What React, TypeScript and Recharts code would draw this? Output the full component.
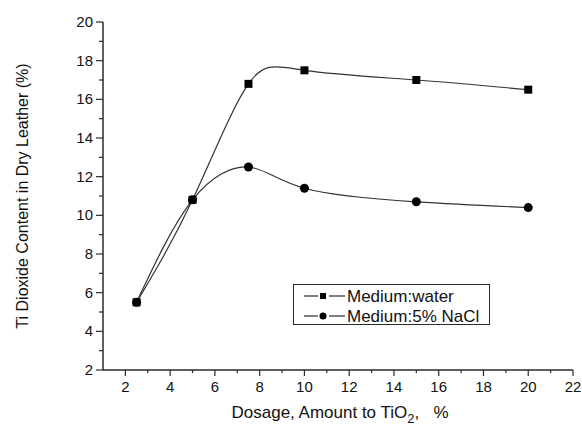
import { LineChart, Line, XAxis, YAxis } from 'recharts';

const dosage = [2.5, 5, 7.5, 10, 15, 20];
const waterContent = [5.5, 10.8, 16.8, 17.5, 17.0, 16.5];
const naclContent = [5.5, 10.8, 12.5, 11.4, 10.7, 10.4];

const xTicks = [2, 3, 4, 5, 6, 7, 8, 9, 10, 11, 12, 13, 14, 15, 16, 17, 18, 19, 20, 21, 22];
const yTicks = [2, 3, 4, 5, 6, 7, 8, 9, 10, 11, 12, 13, 14, 15, 16, 17, 18, 19, 20];

const seriesNames = ['Medium:water', 'Medium:5% NaCl'];

const FONT = '"Liberation Sans", Arial, sans-serif';
const INK = '#2a2a2a';

const chartData = dosage.map((d, i) => ({
  dosage: d,
  water: waterContent[i],
  nacl: naclContent[i],
}));

const XTick = (props: any) => {
  const { x, y, payload } = props;
  const major = payload.value % 2 === 0;
  return (
    <g>
      <line x1={x} x2={x} y1={y} y2={y + (major ? 6 : 3)} stroke={INK} strokeWidth={1.2} />
      {major && (
        <text x={x} y={y + 22} textAnchor="middle" fontSize={15} fontFamily={FONT} fill="#111">
          {payload.value}
        </text>
      )}
    </g>
  );
};

const YTick = (props: any) => {
  const { x, y, payload } = props;
  const major = payload.value % 2 === 0;
  return (
    <g>
      <line x1={x} x2={x - (major ? 7 : 4)} y1={y} y2={y} stroke={INK} strokeWidth={1.2} />
      {major && (
        <text x={x - 10} y={y + 5} textAnchor="end" fontSize={15} fontFamily={FONT} fill="#111">
          {payload.value}
        </text>
      )}
    </g>
  );
};

const SquareDot = (props: any) => {
  const { cx, cy } = props;
  return <rect x={cx - 4} y={cy - 4} width={8} height={8} fill="#000" />;
};

const CircleDot = (props: any) => {
  const { cx, cy } = props;
  return <circle cx={cx} cy={cy} r={4.5} fill="#000" />;
};

const LegendBox = () => (
  <svg width={198} height={42} style={{ display: 'block' }}>
    <rect x={0.5} y={0.5} width={196} height={40} fill="#fff" stroke={INK} strokeWidth={1} />
    {seriesNames.map((name, i) => {
      const cy = 12 + i * 20;
      return (
        <g key={name}>
          <line x1={11} x2={25} y1={cy} y2={cy} stroke={INK} strokeWidth={1.2} />
          <line x1={36} x2={52} y1={cy} y2={cy} stroke={INK} strokeWidth={1.2} />
          {i === 0 ? (
            <rect x={27} y={cy - 3} width={6} height={6} fill="#000" />
          ) : (
            <circle cx={30} cy={cy} r={3.5} fill="#000" />
          )}
          <text x={54} y={cy + 6} fontSize={17} fontFamily={FONT} fill="#111">
            {name}
          </text>
        </g>
      );
    })}
  </svg>
);

export default function App() {
  return (
    <div style={{ position: 'absolute', left: 0, top: 0, width: 582, height: 428, background: '#fff' }}>
      <LineChart
        width={582}
        height={428}
        data={chartData}
        margin={{ top: 22, right: 9, bottom: 28, left: 43 }}
      >
        <XAxis
          dataKey="dosage"
          type="number"
          domain={[1, 22]}
          ticks={xTicks}
          interval={0}
          height={30}
          tickSize={0}
          tickMargin={0}
          tickLine={false}
          tick={<XTick />}
          axisLine={{ stroke: INK, strokeWidth: 1.5 }}
          allowDataOverflow
          label={() => (
            <text x={340} y={418} textAnchor="middle" fontSize={17} fontFamily={FONT} fill="#111">
              Dosage, Amount to TiO
              <tspan dy={5} fontSize={13}>2</tspan>
              <tspan dy={-5}>,{'\u00a0\u00a0\u00a0'}%</tspan>
            </text>
          )}
        />
        <YAxis
          type="number"
          domain={[2, 20]}
          ticks={yTicks}
          interval={0}
          width={60}
          tickSize={0}
          tickMargin={0}
          tickLine={false}
          tick={<YTick />}
          axisLine={{ stroke: INK, strokeWidth: 1.5 }}
          allowDataOverflow
          label={() => (
            <text
              x={22}
              y={196}
              transform="rotate(-90, 22, 196)"
              textAnchor="middle"
              dominantBaseline="central"
              fontSize={16}
              fontFamily={FONT}
              fill="#111"
            >
              Ti Dioxide Content in Dry Leather (%)
            </text>
          )}
        />
        <Line
          dataKey="water"
          name={seriesNames[0]}
          type="natural"
          stroke="#333"
          strokeWidth={1.2}
          dot={<SquareDot />}
          activeDot={false}
          isAnimationActive={false}
        />
        <Line
          dataKey="nacl"
          name={seriesNames[1]}
          type="natural"
          stroke="#333"
          strokeWidth={1.2}
          dot={<CircleDot />}
          activeDot={false}
          isAnimationActive={false}
        />
      </LineChart>
      <div style={{ position: 'absolute', left: 293, top: 284 }}>
        <LegendBox />
      </div>
    </div>
  );
}
